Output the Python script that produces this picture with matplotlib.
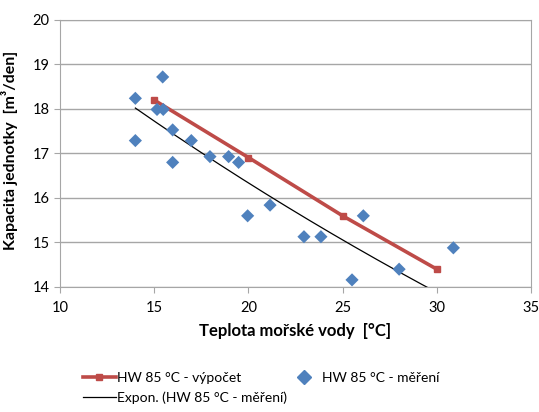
import numpy as np
import matplotlib
matplotlib.use("Agg")
import matplotlib.pyplot as plt
from matplotlib.lines import Line2D

plt.rcParams['font.family'] = ['Lato', 'DejaVu Sans']

# HW 85 °C - výpočet
calc_t = [15, 20, 25, 30]
calc_q = [18.2, 16.91, 15.6, 14.4]

# HW 85 °C - měření
meas_t = [14.0, 14.0, 15.45, 15.15, 15.48, 15.98, 15.98, 16.97, 17.96, 18.95,
          19.48, 19.96, 21.15, 22.95, 23.85, 26.1, 25.5, 28.0, 30.88]
meas_q = [18.24, 17.29, 18.72, 17.99, 17.99, 17.53, 16.80, 17.29, 16.93, 16.93,
          16.80, 15.60, 15.84, 15.13, 15.13, 15.60, 14.16, 14.40, 14.88]

# Expon. trendline y = a*exp(b*x)
trend_a = 22.65
trend_b = -0.01633

red = '#be4b48'
blue = '#4f81bd'
grid_c = '#a6a6a6'

fig = plt.figure(figsize=(5.39, 4.12), dpi=100)
ax = fig.add_axes([60/539, 1-287/412, 471/539, 267/412])

tt = np.linspace(min(meas_t), max(meas_t), 200)
ax.plot(tt, trend_a*np.exp(trend_b*tt), color='black', lw=0.9, zorder=2)

ax.plot(calc_t, calc_q, color=red, lw=2.6, marker='s', ms=4.5, zorder=3)
ax.scatter(meas_t, meas_q, marker='D', s=45, color=blue, edgecolors='none', zorder=4)

ax.set_xlim(10, 35)
ax.set_ylim(14, 20)
ax.set_xticks(np.arange(10, 36, 5))
ax.set_yticks(np.arange(14, 21, 1))
ax.grid(axis='y', color=grid_c, lw=1)
ax.set_axisbelow(True)
for s in ax.spines.values():
    s.set_color(grid_c)
ax.tick_params(axis='both', colors=grid_c, labelcolor='black', labelsize=10.5, length=4)
ax.tick_params(axis='x', pad=6)

ax.set_xlabel('Teplota mořské vody  [°C]', fontsize=12, fontweight='bold', labelpad=6)
ax.set_ylabel('Kapacita jednotky  [m³/den]', fontsize=11.5, fontweight='bold')
ax.yaxis.set_label_coords(-0.089, 0.51)

handles = [Line2D([], [], color=red, lw=2.6, marker='s', ms=4.5),
           Line2D([], [], color='black', lw=0.9),
           Line2D([], [], color=blue, ls='none', marker='D', ms=7)]
labels = ['HW 85 °C - výpočet', 'Expon. (HW 85 °C - měření)', 'HW 85 °C - měření']
fig.legend(handles, labels,
           ncol=2, loc='upper left', bbox_to_anchor=(70/539, 1-359/412),
           frameon=False, fontsize=10, handlelength=2.4, columnspacing=0.0,
           labelspacing=0.55, handletextpad=0.1)

fig.savefig('out.png', dpi=100)
